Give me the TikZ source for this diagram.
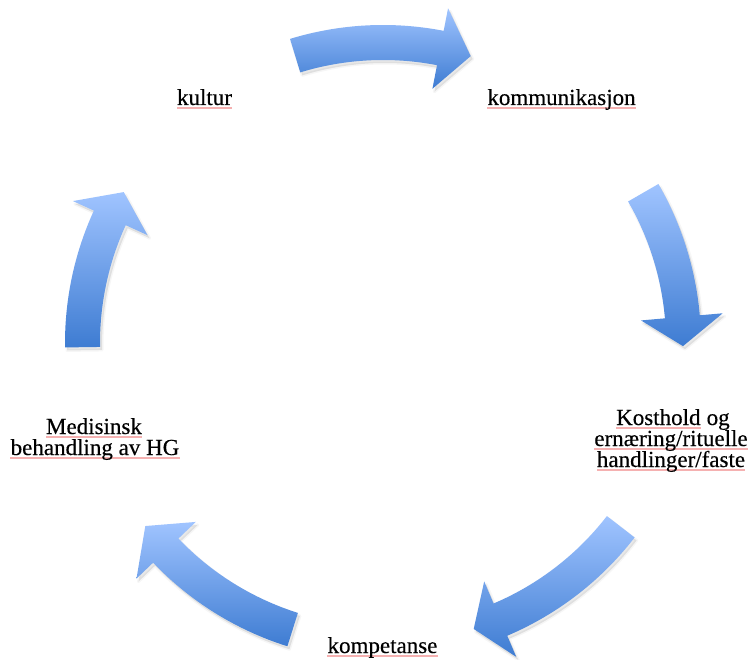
\documentclass[tikz,border=0pt]{standalone}
\usepackage{fontspec}
\setmainfont[FakeBold=0.35]{Liberation Serif}

\definecolor{arrowlight}{RGB}{160,196,255}
\definecolor{arrowdark}{RGB}{62,124,210}
\definecolor{spellred}{RGB}{230,60,60}

\pgfdeclarelayer{marks}
\pgfsetlayers{marks,main}

% outline of a curved block arrow around the cycle centre:
% tail angle, neck angle, tip angle
\newcommand\arrowoutline[3]{%
  (#1:318pt) arc[start angle=#1, end angle=#2, radius=318pt]
    -- (#2:341pt) -- (#3:300pt) -- (#2:259pt) -- (#2:283pt)
    arc[start angle=#2, end angle=#1, radius=283pt] -- cycle}

% soft shadow first, then the shaded arrow on top
\newcommand\cyclearrow[3]{%
  \path[arrowshadow, line width=3pt, draw, fill=none, opacity=0.035] \arrowoutline{#1}{#2}{#3};
  \path[arrowshadow, fill, opacity=0.09] \arrowoutline{#1}{#2}{#3};
  \path[arrowfill] \arrowoutline{#1}{#2}{#3};}

\begin{document}
\begin{tikzpicture}[x=1pt, y=1pt,
  arrowfill/.style={top color=arrowlight, bottom color=arrowdark, draw=none},
  arrowshadow/.style={black, line join=round, xshift=2pt, yshift=-3pt},
  stagetext/.style={font=\fontsize{23}{21.5}\selectfont, inner sep=0pt},
  squig/.style={fill=spellred, fill opacity=0.4, draw=none}]

  \path[use as bounding box] (0,0) rectangle (755,-660);

  % arrows of the cycle
  \begin{scope}[shift={(383,-343)}]
    \cyclearrow{107}{79}{73}
    \cyclearrow{30}{5}{-0.6}
    \cyclearrow{-37.7}{-67}{-72.4}
    \cyclearrow{-107.5}{-136.3}{-142.4}
    \cyclearrow{180.8}{155.4}{149.8}
  \end{scope}

  % stages
  \node[stagetext, anchor=base] (kultur) at (204.5,-105) {kultur};
  \node[stagetext, anchor=base] (komm) at (561.5,-105) {kommunikasjon};
  \node[stagetext, anchor=base west] (kostA) at (616,-425) {Kosthold};
  \node[stagetext, anchor=base west] (kostB) at ([xshift=5.75pt]kostA.base east) {og};
  \node[stagetext, anchor=base] (kostC) at (671,-446) {ernæring/rituelle};
  \node[stagetext, anchor=base] (kostD) at (671,-467) {handlinger/faste};
  \node[stagetext, anchor=base] (komp) at (382.5,-653) {kompetanse};
  \node[stagetext, anchor=base] (medA) at (94,-434) {Medisinsk};
  \node[stagetext, anchor=base] (medB) at (95,-455) {behandling av HG};

  % white page and spell-check lines under the words, kept beneath everything
  \begin{pgfonlayer}{marks}
    \fill[white] (0,0) rectangle (755,-660);
    \foreach \w in {kultur, komm, kostA, kostC, kostD, komp, medA, medB}
      \path[squig] ([yshift=-2.4pt]\w.base west) rectangle ([yshift=-3.6pt]\w.base east);
  \end{pgfonlayer}
\end{tikzpicture}
\end{document}
